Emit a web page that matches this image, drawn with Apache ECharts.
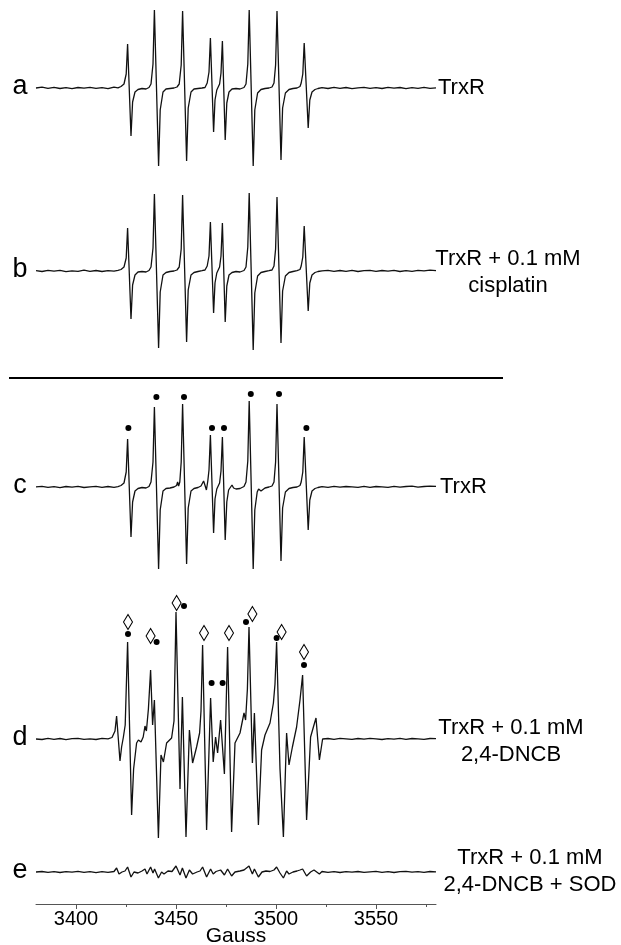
<!DOCTYPE html>
<html>
<head>
<meta charset="utf-8">
<script src="https://cdn.jsdelivr.net/npm/echarts@6/dist/echarts.min.js"></script>
<style>html,body{margin:0;padding:0;background:#fff;}#chart{width:621px;height:945px;}</style>
</head>
<body>
<div id="chart"></div>
<script>
// ---- Data: field (Gauss) vs. EPR derivative intensity (arb. units, baseline 0) ----
const traceA = [[3380,0],[3383,0.8],[3386,-0.3],[3389,0.6],[3392,-0.5],[3395,0.4],[3398,-0.6],[3401,0.5],[3404,-0.2],[3407,0.7],[3410,-0.4],[3413,0.3],[3416,-0.6],[3419,0.9],[3421,0.2],[3422.5,1.5],
[3424,4],[3425.1,14],[3425.8,44],[3427.5,-48],[3428.3,-14],[3429.5,-4],[3431,-1.5],[3433,-0.5],[3435,-1],[3436.5,0.5],
[3437.5,4],[3438.5,24],[3439.2,78],[3441.3,-78],[3442.1,-22],[3443.5,-4],[3445,-1],[3447,-0.5],[3449,0],[3450.5,1],
[3451.6,4],[3452.6,23],[3453.3,77],[3455.3,-73],[3456.1,-20],[3457.5,-4],[3459,-1],[3461,-0.5],[3463,0],[3464.5,0.5],
[3465.6,5],[3466.5,16],[3467.2,50],[3468.8,-44],[3469.5,-12],[3470.4,-2],[3471,0],[3471.8,4],
[3472.5,15],[3473.2,47],[3474.6,-52],[3475.4,-15],[3476.5,-4],[3478,-1],[3480,-0.5],[3482,-1],[3484,0.5],
[3485,4],[3485.9,24],[3486.6,78],[3488.6,-78],[3489.4,-22],[3490.8,-5],[3492.5,-1.5],[3494.5,-0.5],[3496.5,0],[3498,1],
[3499,5],[3499.8,23],[3500.5,77],[3502.5,-72],[3503.3,-20],[3504.7,-5],[3506.5,-1.5],[3508.5,-0.5],[3510.5,0],[3512,1.5],
[3512.6,5],[3513.4,14],[3514.1,45],[3516.1,-40],[3516.9,-12],[3518,-4],[3519.5,-1.5],[3521,-0.5],
[3523,0.3],[3526,-0.5],[3529,0.6],[3532,-0.3],[3535,0.5],[3538,-0.6],[3541,0.2],[3544,0.7],[3547,-0.4],[3550,0.4],[3553,-0.5],[3556,0.6],[3559,-0.2],[3562,0.5],[3565,-0.6],[3568,0.3],[3571,-0.3],[3574,0.6],[3577,-0.4],[3580,0.2]];

const traceB = [[3380,0.3],[3383,-0.5],[3386,0.7],[3389,-0.2],[3392,0.6],[3395,-0.6],[3398,0.2],[3401,-0.4],[3404,0.8],[3407,-0.3],[3410,0.5],[3413,-0.5],[3416,0.4],[3419,-0.2],[3421,0.6],[3422.5,1.5],
[3424,4],[3425.1,13],[3425.8,43],[3427.5,-48],[3428.3,-14],[3429.5,-4],[3431,-1],[3433,-0.5],[3435,-1],[3436.5,0.5],
[3437.5,4],[3438.5,23],[3439.2,77],[3441.3,-77],[3442.1,-21],[3443.5,-4],[3445,-1.5],[3447,-0.5],[3449,0],[3450.5,1],
[3451.6,4],[3452.6,22],[3453.3,76],[3455.3,-71],[3456.1,-19],[3457.5,-4],[3459,-1.5],[3461,-0.5],[3463,0.3],[3464.5,1],
[3465.6,5],[3466.5,15],[3467.2,49],[3468.8,-42],[3469.5,-12],[3470.4,-2],[3471,0],[3471.8,4],
[3472.5,15],[3473.2,48],[3474.6,-51],[3475.4,-15],[3476.5,-4],[3478,-1.5],[3480,-0.5],[3482,-1],[3484,0.5],
[3485,4],[3485.9,24],[3486.6,78],[3488.6,-79],[3489.4,-22],[3490.8,-5],[3492.5,-1.5],[3494.5,-0.5],[3496.5,0.3],[3498,1],
[3499,5],[3499.8,22],[3500.5,74],[3502.5,-72],[3503.3,-20],[3504.7,-5],[3506.5,-1.5],[3508.5,-0.5],[3510.5,0.3],[3512,1.5],
[3512.6,5],[3513.4,14],[3514.1,45],[3516.1,-40],[3516.9,-12],[3518,-4],[3519.5,-1.5],[3521,-0.5],
[3523,0.2],[3526,0.6],[3529,-0.4],[3532,0.5],[3535,-0.3],[3538,0.7],[3541,-0.5],[3544,0.3],[3547,0.6],[3550,-0.4],[3553,0.5],[3556,-0.2],[3559,0.7],[3562,-0.5],[3565,0.4],[3568,-0.3],[3571,0.6],[3574,0.1],[3577,0.8],[3580,0.3]];

const traceC = [[3380,0.2],[3383,0.6],[3386,-0.4],[3389,0.3],[3392,-0.6],[3395,0.5],[3398,-0.2],[3401,0.7],[3404,-0.5],[3407,0.2],[3410,0.6],[3413,-0.4],[3416,0.5],[3419,-0.3],[3421,0.4],[3422.5,1.5],
[3424,4],[3425.1,15],[3425.8,48],[3427.5,-50],[3428.3,-15],[3429.5,-4],[3431,-1.5],[3433,-0.5],[3435,-1],[3436.5,0.5],
[3437.5,5],[3438.5,25],[3439.2,80],[3441.3,-82],[3442.1,-23],[3443.5,-4],[3445,-1.5],[3447,-1],[3449,0],[3450.3,1.5],[3450.8,5],[3451.3,1],
[3451.9,5],[3452.6,25],[3453.3,83],[3455.3,-77],[3456.1,-21],[3457.5,-4],[3459,-1.5],[3461,-0.5],[3462.5,1],[3463.8,6],[3464.6,1],[3465.2,-3],
[3465.9,6],[3466.5,17],[3467.2,52],[3468.8,-46],[3469.5,-12],[3470.4,-2],[3471,0],[3471.8,4],
[3472.5,16],[3473.2,50],[3474.6,-53],[3475.4,-15],[3476.3,-3],[3477.2,-4],[3478,2],[3478.8,-1],[3480,-2],[3482,-1.5],[3484,0.5],
[3485,5],[3485.9,26],[3486.6,86],[3488.6,-82],[3489.4,-23],[3490.6,-5],[3491.3,-2],[3492.5,-4],[3494.5,-1],[3496.5,0],[3498,1],
[3499,5],[3499.8,25],[3500.5,83],[3502.5,-74],[3503.3,-21],[3504.7,-5],[3506.5,-1.5],[3508.5,-0.5],[3510.5,0],[3512,1.5],
[3512.6,5],[3513.4,15],[3514.1,50],[3516.1,-43],[3516.9,-13],[3518,-4],[3519.5,-1.5],[3521,-0.5],
[3523,0.4],[3526,-0.3],[3529,0.6],[3532,-0.2],[3535,0.5],[3538,0.1],[3541,-0.4],[3544,0.6],[3547,-0.3],[3550,0.5],[3553,0.2],[3556,-0.4],[3559,0.6],[3562,-0.2],[3565,0.5],[3568,0.8],[3571,-0.1],[3574,0.5],[3577,0.9],[3580,0.6]];

const traceD = [[3380,0],[3383,-0.5],[3386,0.6],[3389,-0.3],[3392,0.5],[3395,-0.6],[3398,0.3],[3401,0.7],[3404,-0.4],[3407,0.2],[3410,-0.5],[3413,0.6],[3416,0.1],[3418,1.5],
[3419.5,8],[3420.3,23],[3422,-22],[3422.8,-8],[3423.7,2],[3424.6,14],[3425.8,97],[3427.8,-76],[3428.8,-30],[3430.3,-4],[3431.2,-1],[3432.5,-3],[3433.6,2],[3434.5,13],[3435.2,8],[3436.2,30],[3437.3,69],[3438.3,14],[3439.2,39],[3441.2,-99],[3442.5,-16],[3443.7,-23],[3445.3,-4],[3447.8,1],[3449,18],[3450,127],[3452,-50],[3453.2,42],[3455,-98],[3456.7,9],[3458.3,-24],[3460.3,-8],[3461.8,6],[3462.5,28],[3463.3,94],[3465.3,-91],[3467.3,41],[3468.6,-23],[3469.8,2],[3470.8,-14],[3472.3,19],[3474.2,-35],[3475,28],[3475.8,92],[3477.8,-93],[3479.5,-4],[3482,6],[3484,26],[3484.8,19],[3485.7,50],[3486.5,112],[3488.2,-24],[3489.2,26],[3491.2,-86],[3492.8,-11],[3494.5,4],[3497,16],[3498.7,36],[3499.5,55],[3500.3,97],[3502,-30],[3503.7,-98],[3505.3,6],[3506.5,-26],[3508.2,-8],[3510.3,12],[3512,39],[3513.3,64],[3515.3,-81],[3517.3,2],[3518.7,12],[3520,21],[3521.7,-21],[3523.3,0],
[3526,0.5],[3529,-0.3],[3532,0.6],[3535,0.1],[3538,-0.4],[3541,0.5],[3544,-0.2],[3547,0.6],[3550,0.2],[3553,-0.5],[3556,0.4],[3559,-0.1],[3562,0.6],[3565,-0.3],[3568,0.5],[3571,0.1],[3574,-0.4],[3577,0.5],[3580,0.3]];

const traceE = [[3380,0],[3383,0.5],[3386,-0.4],[3389,0.3],[3392,-0.5],[3395,0.4],[3398,-0.2],[3401,0.6],[3404,-0.4],[3407,0.3],[3410,-0.6],[3413,0.4],[3416,-0.3],[3419,0.5],
[3420.3,4],[3421.5,-2],[3423,0],[3424.5,1],[3425.8,5],[3427.5,-5],[3429,0],[3431,-1],[3433,1],[3434.5,3],[3435.5,-2],[3437.3,5],[3438.5,-1],[3439.3,3],[3441.2,-6],[3442.8,0],[3444,-2],[3446,1],[3448,0.5],[3450,6],[3452,-3],[3453.2,4],[3455,-6],[3456.7,2],[3458.3,-2],[3460.5,0],[3462,1],[3463.3,5],[3465.3,-5],[3467.3,3],[3468.6,-2],[3470,0.5],[3471,-1],[3472.3,2],[3474.2,-3],[3475.8,3],[3477.8,-4],[3479.5,0],[3482,1],[3484,2],[3486.5,6],[3488.2,-2],[3489.2,3],[3491.2,-5],[3493,0],[3495,1],[3497,0.5],[3499,2],[3500.3,5],[3502,-1],[3503.7,-6],[3505.3,1],[3506.5,-2],[3508.5,0],[3510.5,1],[3512,2],[3513.3,3],[3515.3,-4],[3517.3,0],[3519,2],[3520,4],[3521.7,-2],[3523,0.5],
[3526,-0.3],[3529,0.4],[3532,-0.5],[3535,0.3],[3538,-0.2],[3541,0.5],[3544,-0.4],[3547,0.2],[3550,0.6],[3553,-0.3],[3556,0.4],[3559,-0.5],[3562,0.3],[3565,0.6],[3568,-0.2],[3571,0.4],[3574,-0.4],[3577,0.5],[3580,0.2]];

// peak markers (field, height above baseline)
const cDotField  = [3426.2, 3440.2, 3454.0, 3468.0, 3474.0, 3487.4, 3501.5, 3515.2];
const cDotHeight = [59, 90, 90, 59, 59, 93, 93, 59];
const dDiamondField  = [3426.0, 3437.3, 3450.3, 3464.0, 3476.5, 3488.2, 3502.8, 3514.0];
const dDiamondHeight = [117, 103, 136, 106, 106, 125, 107, 87];
const dDotField  = [3426.0, 3440.3, 3454.0, 3467.8, 3473.3, 3485.0, 3500.3, 3514.0];
const dDotHeight = [105, 97, 133, 56, 56, 117, 101, 74];

const majorTicks = [3400, 3450, 3500, 3550];
const minorTicks = [3425, 3475, 3525, 3575];
const traceNames = ['a', 'b', 'c', 'd', 'e'];
const traceLabels = ['TrxR', 'TrxR + 0.1 mM\ncisplatin', 'TrxR', 'TrxR + 0.1 mM\n2,4-DNCB', 'TrxR + 0.1 mM\n2,4-DNCB + SOD'];

// ---- Layout (pixel baselines of each stacked trace) ----
const AXIS_Y = 904;
const baselinePx = [88, 271, 487, 739, 872];
const offsets = baselinePx.map(p => AXIS_Y - p);
const FONT = 'Liberation Sans, Arial, Helvetica, sans-serif';

const traces = [traceA, traceB, traceC, traceD, traceE];
const series = traces.map((t, i) => ({
  type: 'line', xAxisIndex: 0, yAxisIndex: 0,
  data: t.map(p => [p[0], p[1] + offsets[i]]),
  showSymbol: false, symbol: 'none', smooth: false, clip: false,
  lineStyle: { color: '#111', width: 1.3 },
  silent: true, animation: false
}));
function markerData(fields, heights, off) { return fields.map((g, k) => [g, heights[k] + off]); }
series.push({ type: 'scatter', data: markerData(cDotField, cDotHeight, offsets[2]), symbol: 'circle', symbolSize: 6, itemStyle: { color: '#000', opacity: 1 }, silent: true, animation: false });
series.push({ type: 'scatter', data: markerData(dDotField, dDotHeight, offsets[3]), symbol: 'circle', symbolSize: 6, itemStyle: { color: '#000', opacity: 1 }, silent: true, animation: false });
series.push({ type: 'scatter', data: markerData(dDiamondField, dDiamondHeight, offsets[3]), symbol: 'diamond', symbolSize: [9, 15], itemStyle: { color: '#fff', borderColor: '#000', borderWidth: 1.1, opacity: 1 }, silent: true, animation: false });

const labelPos = [
  { x: 438, y: 88, align: 'left' },
  { x: 508, y: 272, align: 'center' },
  { x: 440, y: 487, align: 'left' },
  { x: 511, y: 741, align: 'center' },
  { x: 530, y: 871, align: 'center' }
];
const graphics = [];
traceNames.forEach((n, i) => {
  graphics.push({ type: 'text', x: 20, y: baselinePx[i] - 1, style: { text: n, font: '27px ' + FONT, fill: '#000', textAlign: 'center', textVerticalAlign: 'middle' } });
  const lp = labelPos[i];
  graphics.push({ type: 'text', x: lp.x, y: lp.y, style: { text: traceLabels[i], font: '22px ' + FONT, fill: '#000', textAlign: lp.align, textVerticalAlign: 'middle', lineHeight: 27 } });
});
graphics.push({ type: 'line', shape: { x1: 9, y1: 378, x2: 503, y2: 378 }, style: { stroke: '#000', lineWidth: 2 } });

const chart = echarts.init(document.getElementById('chart'), null, { renderer: 'canvas' });
chart.setOption({
  animation: false,
  backgroundColor: '#fff',
  grid: { left: 36, right: 185, top: 0, bottom: 945 - AXIS_Y, containLabel: false, outerBoundsMode: 'none' },
  xAxis: [
    {
      type: 'value', min: 3380, max: 3580, position: 'bottom',
      name: 'Gauss', nameLocation: 'middle', nameGap: 22, nameMoveOverlap: false,
      nameTextStyle: { fontSize: 21, color: '#000', fontFamily: FONT },
      axisLine: { show: true, lineStyle: { color: '#555', width: 1 } },
      axisTick: { show: true, customValues: majorTicks, length: 5, lineStyle: { color: '#555' } },
      axisLabel: { show: true, customValues: majorTicks, formatter: v => String(v), fontSize: 20, color: '#000', fontFamily: FONT, margin: 5 },
      splitLine: { show: false }
    },
    {
      type: 'value', min: 3380, max: 3580, position: 'bottom', offset: 0,
      axisLine: { show: false },
      axisTick: { show: true, customValues: minorTicks, length: 3, lineStyle: { color: '#555' } },
      axisLabel: { show: false },
      splitLine: { show: false }
    }
  ],
  yAxis: { type: 'value', min: 0, max: AXIS_Y, show: false },
  graphic: graphics,
  series: series
});
</script>
</body>
</html>
